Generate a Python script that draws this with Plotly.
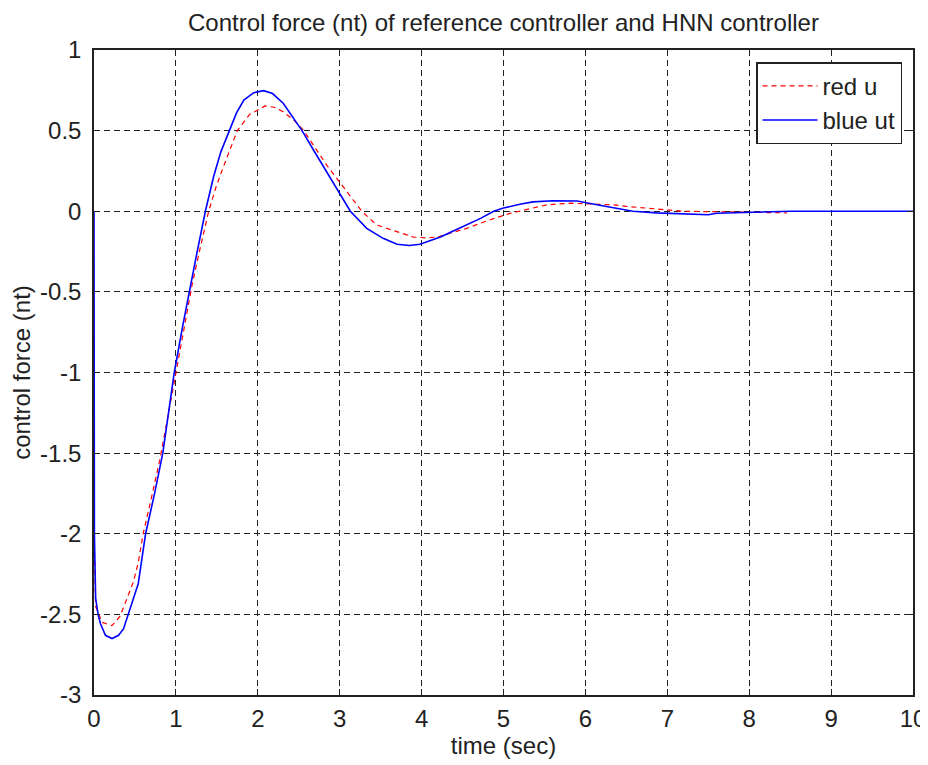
import plotly.graph_objects as go

# Blue: HNN controller output "ut"
t_blue = [0, 0.005, 0.02, 0.05, 0.08, 0.14, 0.22, 0.30, 0.36, 0.44, 0.54, 0.63, 0.74, 0.84,
          0.98, 1.08, 1.16, 1.26, 1.36, 1.46, 1.55, 1.65, 1.74, 1.83, 1.95, 2.07, 2.18, 2.31,
          2.43, 2.54, 2.68, 2.80, 2.90, 3.00, 3.13, 3.33, 3.53, 3.70, 3.85, 3.98, 4.10, 4.23,
          4.40, 4.55, 4.72, 4.88, 5.00, 5.20, 5.36, 5.60, 5.90, 6.14, 6.35, 6.58, 6.87, 7.10,
          7.30, 7.50, 7.60, 8.00, 8.20, 8.50, 9.00, 10.0]
u_blue = [0.0, -2.0, -2.4, -2.5, -2.56, -2.63, -2.65, -2.63, -2.59, -2.47, -2.31, -2.0, -1.75, -1.5,
          -1.0, -0.72, -0.5, -0.25, 0.0, 0.214, 0.37, 0.5, 0.61, 0.69, 0.735, 0.748, 0.73, 0.67,
          0.585, 0.5, 0.38, 0.28, 0.19, 0.11, 0.0, -0.106, -0.168, -0.205, -0.212, -0.205, -0.185, -0.16,
          -0.12, -0.085, -0.044, 0.0, 0.02, 0.043, 0.058, 0.065, 0.064, 0.04, 0.02, 0.0, -0.01, -0.015,
          -0.022, -0.022, -0.012, -0.008, -0.003, 0.0, 0.0, 0.0]

# Red: reference controller output "u"
t_red = [0, 0.01, 0.02, 0.10, 0.22, 0.32, 0.40, 0.48, 0.54, 0.60, 0.70, 0.80, 0.90, 1.00,
         1.10, 1.20, 1.30, 1.40, 1.49, 1.58, 1.75, 1.90, 2.09, 2.20, 2.31, 2.45, 2.56, 2.72,
         2.85, 3.00, 3.13, 3.27, 3.45, 3.66, 3.90, 4.05, 4.19, 4.55, 4.80, 5.08, 5.20, 5.35,
         5.53, 5.81, 6.05, 6.34, 6.50, 6.87, 7.20, 7.60, 8.00, 8.46]
u_red = [-2.0, -2.3, -2.45, -2.55, -2.57, -2.51, -2.41, -2.30, -2.18, -2.0, -1.78, -1.55, -1.28, -1.0,
         -0.72, -0.45, -0.22, 0.0, 0.15, 0.276, 0.5, 0.6, 0.653, 0.645, 0.617, 0.56, 0.5, 0.38,
         0.28, 0.18, 0.09, 0.0, -0.085, -0.12, -0.16, -0.165, -0.16, -0.106, -0.059, -0.013, 0.0, 0.02,
         0.04, 0.05, 0.047, 0.04, 0.03, 0.015, 0.0, -0.003, -0.008, -0.01]

x_ticks = [0, 1, 2, 3, 4, 5, 6, 7, 8, 9, 10]
y_ticks = [1, 0.5, 0, -0.5, -1, -1.5, -2, -2.5, -3]
y_tick_labels = ["1", "0.5", "0", "-0.5", "-1", "-1.5", "-2", "-2.5", "-3"]

FONT = "Liberation Sans, Arial, sans-serif"
FS = 24

fig = go.Figure()
fig.add_trace(go.Scatter(x=t_red, y=u_red, mode="lines", name="red u",
                         line=dict(color="#ff0000", width=1.2, dash="5px,4px")))
fig.add_trace(go.Scatter(x=t_blue, y=u_blue, mode="lines", name="blue ut",
                         line=dict(color="#0000ff", width=1.6)))

axis_common = dict(showline=True, linecolor="#222222", linewidth=1.5, mirror="ticks",
                   ticks="inside", ticklen=6, tickcolor="#222222", tickwidth=1.2,
                   showgrid=True, gridcolor="#222222", gridwidth=1, griddash="6px,4px",
                   zeroline=False, automargin=False,
                   tickfont=dict(family=FONT, size=FS, color="#222222"))

fig.update_xaxes(range=[0, 10], tickvals=x_ticks, ticktext=[str(v) for v in x_ticks],
                 ticklabelstandoff=1,
                 title=dict(text="time (sec)", font=dict(family=FONT, size=FS, color="#222222"),
                            standoff=4), **axis_common)
fig.update_yaxes(range=[-3, 1], tickvals=y_ticks, ticktext=y_tick_labels,
                 ticklabelstandoff=6,
                 title=dict(text="control force (nt)", font=dict(family=FONT, size=FS, color="#222222"),
                            standoff=8), **axis_common)

# the page body adds an 8px offset; figure coords = window coords - 8
fig.update_layout(
    width=920, height=757,
    margin=dict(l=86, r=15, t=42, b=70),
    paper_bgcolor="white", plot_bgcolor="white",
    title=dict(text="Control force (nt) of reference controller and HNN controller",
               x=(86 + 905) / 2 / 920, xanchor="center", y=1 - 15 / 757, yanchor="middle",
               font=dict(family=FONT, size=FS, color="#222222")),
    legend=dict(x=0.9866, y=0.981, xanchor="right", yanchor="top",
                bgcolor="white", bordercolor="#222222", borderwidth=1.5,
                font=dict(family=FONT, size=FS, color="#222222"),
                itemwidth=55, tracegroupgap=0),
    showlegend=True,
)

fig.write_html("out.html")
